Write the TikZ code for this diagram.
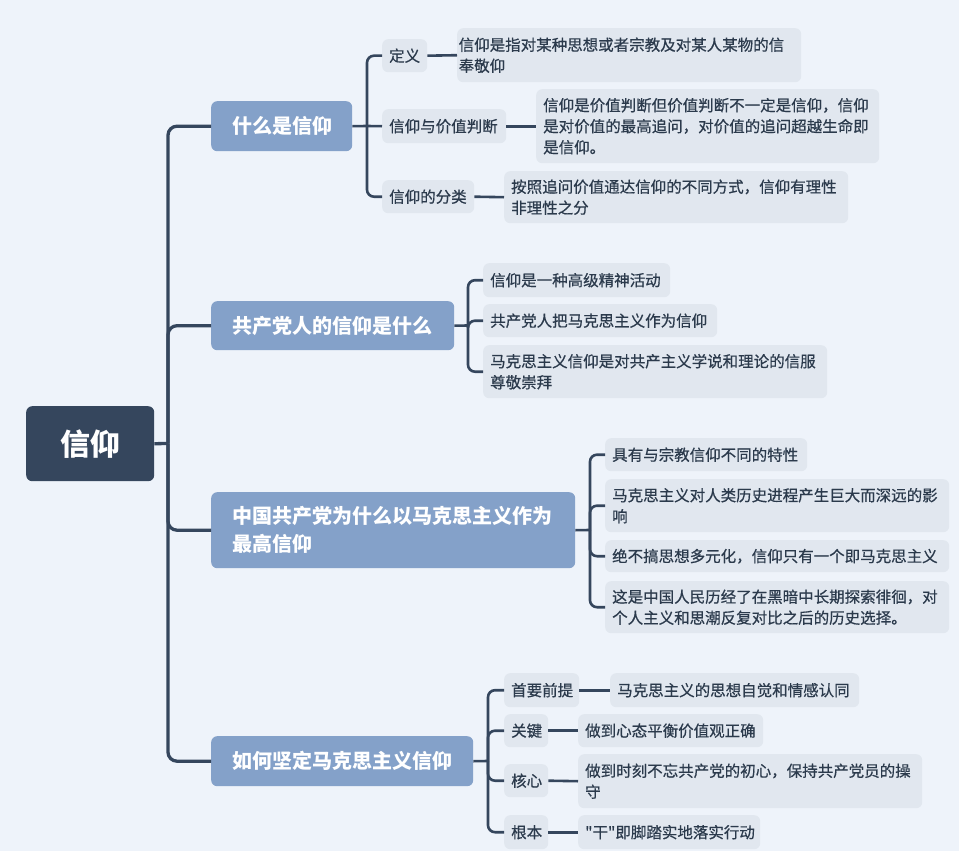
\documentclass[tikz,border=0pt]{standalone}
\usepackage{fontspec}
\setmainfont{Noto Sans CJK SC}[Ligatures=TeXOff]
\newfontfamily\leaffont{Noto Sans CJK SC}[Ligatures=TeXOff, FakeBold=0.6]
\definecolor{bgC}{HTML}{EEF3FA}
\definecolor{rootC}{HTML}{35465D}
\definecolor{topicC}{HTML}{84A1C9}
\definecolor{leafC}{HTML}{E1E7EF}
\definecolor{lineC}{HTML}{35465D}
\definecolor{textC}{HTML}{2B3A4C}
\begin{document}
\begin{tikzpicture}[x=1pt,y=-1pt,
  trunkline/.style={draw=lineC, line width=3.3pt, rounded corners=9pt},
  conn/.style={draw=lineC, line width=2.6pt, rounded corners=7pt},
  plainconn/.style={draw=lineC, line width=2.6pt},
  rootbox/.style={fill=rootC, rounded corners=6pt, text=white,
    font=\fontsize{30}{36}\selectfont\bfseries, minimum width=128pt,
    minimum height=75pt, inner sep=0pt, anchor=north west},
  topicbox/.style={fill=topicC, rounded corners=6pt, text=white,
    font=\fontsize{20}{28}\selectfont\bfseries, align=left, inner xsep=21pt,
    inner ysep=0pt, anchor=north west},
  leafbox/.style={fill=leafC, rounded corners=6pt, text=textC,
    font=\leaffont\fontsize{15.5}{21}\selectfont, align=left, inner xsep=7pt,
    inner ysep=0pt, anchor=north west},
]
\fill[bgC] (0,0) rectangle (959,851);
\useasboundingbox (0,0) rectangle (959,851);

% root and main topics
\node[rootbox] (root) at (26,406) {信仰};
\node[topicbox, minimum width=141pt, text width=99pt, minimum height=50pt] (t1) at (211,101) {什么是信仰};
\node[topicbox, minimum width=243pt, text width=201pt, minimum height=49pt] (t2) at (211,301) {共产党人的信仰是什么};
\node[topicbox, minimum width=364pt, text width=322pt, minimum height=76pt] (t3) at (211,492) {中国共产党为什么以马克思主义作为\\最高信仰};
\node[topicbox, minimum width=262pt, text width=220pt, minimum height=50pt] (t4) at (211,736) {如何坚定马克思主义信仰};

% topic 1
\node[leafbox, minimum width=45pt, text width=31pt, minimum height=33pt] (s11) at (382,39) {定义};
\node[leafbox, minimum width=124pt, text width=110pt, minimum height=34pt] (s12) at (382,109) {信仰与价值判断};
\node[leafbox, minimum width=92pt, text width=78pt, minimum height=33pt] (s13) at (382,180) {信仰的分类};
\node[leafbox, minimum width=344pt, text width=341pt, inner xsep=1.5pt, minimum height=54pt] (l11) at (457,28) {信仰是指对某种思想或者宗教及对某人某物的信\\奉敬仰};
\node[leafbox, minimum width=343pt, text width=329pt, minimum height=74pt] (l12) at (536,89) {信仰是价值判断但价值判断不一定是信仰，信仰\\是对价值的最高追问，对价值的追问超越生命即\\是信仰。};
\node[leafbox, minimum width=344pt, text width=330pt, minimum height=52pt] (l13) at (504,171) {按照追问价值通达信仰的不同方式，信仰有理性\\非理性之分};

% topic 2
\node[leafbox, minimum width=187pt, text width=173pt, minimum height=34pt] (s21) at (483,263) {信仰是一种高级精神活动};
\node[leafbox, minimum width=234pt, text width=220pt, minimum height=33pt] (s22) at (483,304) {共产党人把马克思主义作为信仰};
\node[leafbox, minimum width=344pt, text width=330pt, minimum height=53pt] (s23) at (483,345) {马克思主义信仰是对共产主义学说和理论的信服\\尊敬崇拜};

% topic 3
\node[leafbox, minimum width=202pt, text width=188pt, minimum height=33pt] (s31) at (605,438) {具有与宗教信仰不同的特性};
\node[leafbox, minimum width=344pt, text width=330pt, minimum height=53pt] (s32) at (605,479) {马克思主义对人类历史进程产生巨大而深远的影\\响};
\node[leafbox, minimum width=344pt, text width=330pt, minimum height=32pt] (s33) at (605,540) {绝不搞思想多元化，信仰只有一个即马克思主义};
\node[leafbox, minimum width=344pt, text width=330pt, minimum height=52pt] (s34) at (605,581) {这是中国人民历经了在黑暗中长期探索徘徊，对\\个人主义和思潮反复对比之后的历史选择。};

% topic 4
\node[leafbox, minimum width=75pt, text width=61pt, minimum height=34pt] (s41) at (504,673) {首要前提};
\node[leafbox, minimum width=44pt, text width=30pt, minimum height=33pt] (s42) at (504,714) {关键};
\node[leafbox, minimum width=44pt, text width=30pt, minimum height=33pt] (s43) at (504,764) {核心};
\node[leafbox, minimum width=44pt, text width=30pt, minimum height=34pt] (s44) at (504,815) {根本};
\node[leafbox, minimum width=249pt, text width=235pt, minimum height=34pt] (l41) at (610,673) {马克思主义的思想自觉和情感认同};
\node[leafbox, minimum width=185pt, text width=171pt, minimum height=33pt] (l42) at (578,714) {做到心态平衡价值观正确};
\node[leafbox, minimum width=344pt, text width=330pt, minimum height=54pt] (l43) at (578,754) {做到时刻不忘共产党的初心，保持共产党员的操\\守};
\node[leafbox, minimum width=182pt, text width=168pt, minimum height=34pt] (l44) at (578,815) {"干"即脚踏实地落实行动};

% junction points
\coordinate (J0) at (168,443.5);
\coordinate (B1) at (367,126);
\coordinate (B2) at (468,325.5);
\coordinate (B3) at (590,530);
\coordinate (B4) at (488,761);

% trunk
\draw[trunkline, rounded corners=0pt] (root.east) -- (J0);
\draw[trunkline] (J0) |- (t1.west);
\draw[trunkline] (J0) |- (t2.west);
\draw[trunkline] (J0) |- (t3.west);
\draw[trunkline] (J0) |- (t4.west);

% topic 1 branches
\draw[plainconn] (t1.east) -- (B1);
\draw[conn] (B1) |- (s11.west);
\draw[plainconn] (B1) -- (s12.west);
\draw[conn] (B1) |- (s13.west);
\draw[plainconn] (s11.east) -- (l11.west);
\draw[plainconn] (s12.east) -- (l12.west);
\draw[plainconn] (s13.east) -- (l13.west);

% topic 2 branches
\draw[plainconn] (t2.east) -- (B2);
\draw[conn] (B2) |- (s21.west);
\draw[conn] (B2) |- (s22.west);
\draw[conn] (B2) |- (s23.west);

% topic 3 branches
\draw[plainconn] (t3.east) -- (B3);
\draw[conn] (B3) |- (s31.west);
\draw[conn] (B3) |- (s32.west);
\draw[conn] (B3) |- (s33.west);
\draw[conn] (B3) |- (s34.west);

% topic 4 branches
\draw[plainconn] (t4.east) -- (B4);
\draw[conn] (B4) |- (s41.west);
\draw[conn] (B4) |- (s42.west);
\draw[conn] (B4) |- (s43.west);
\draw[conn] (B4) |- (s44.west);
\draw[plainconn] (s41.east) -- (l41.west);
\draw[plainconn] (s42.east) -- (l42.west);
\draw[plainconn] (s43.east) -- (l43.west);
\draw[plainconn] (s44.east) -- (l44.west);
\end{tikzpicture}
\end{document}
